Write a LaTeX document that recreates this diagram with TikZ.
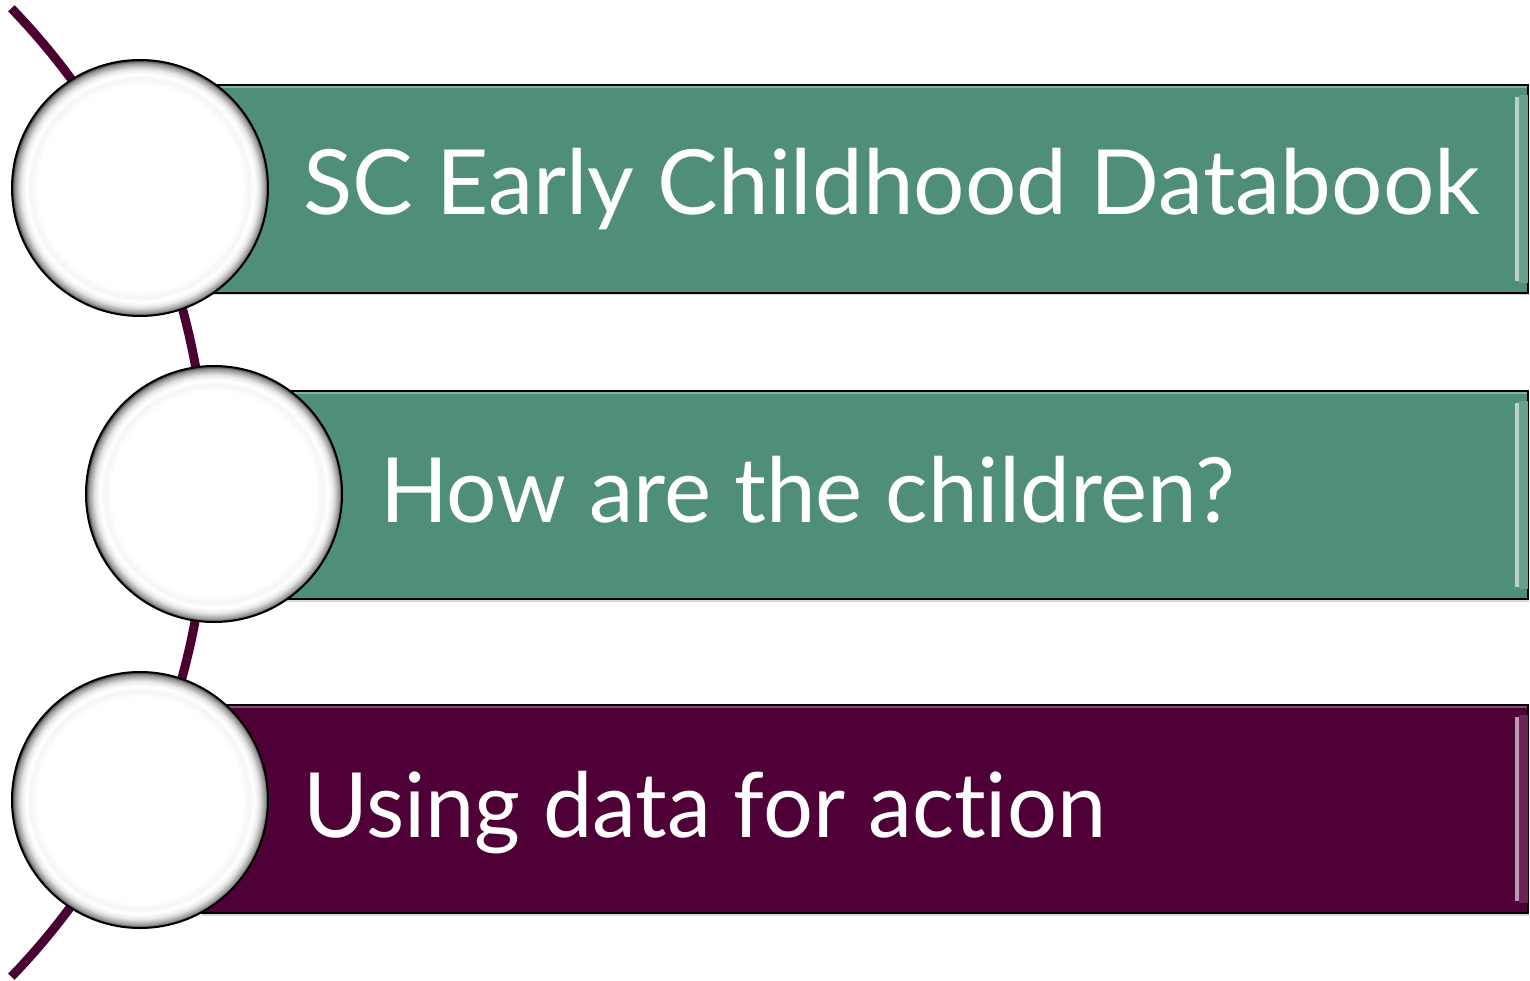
\documentclass[tikz,border=0pt]{standalone}
\usepackage{fontspec}
\setmainfont{Lato}[Ligatures={NoCommon}]
\usetikzlibrary{shadows}
\definecolor{dbgreen}{HTML}{4F8F79}
\definecolor{dbpurple}{HTML}{4E0037}
\definecolor{arccol}{HTML}{4A0031}
\pgfdeclareradialshading{bead}{\pgfpoint{0bp}{0bp}}{%
 color(0bp)=(white); color(20bp)=(white); color(21.3bp)=(black!4);
 color(22.3bp)=(white); color(23.3bp)=(black!10); color(24.4bp)=(black!40);
 color(25bp)=(black!75); color(50bp)=(black!75)}
\tikzset{
  bar/.style={draw=black, line width=2pt, inner sep=0pt, anchor=north west,
    minimum height=208pt, drop shadow={shadow xshift=1pt, shadow yshift=-2.5pt, opacity=0.3}},
  bead/.style={circle, draw=black, line width=2pt, minimum size=256pt, inner sep=0pt,
    shading=bead},
  lbl/.style={anchor=base west, inner sep=0pt, text=white, font=\fontsize{90}{90}\selectfont},
  spine/.style={draw=arccol, line width=9pt},
}
\begin{document}
\begin{tikzpicture}[x=1pt, y=-1pt]
\useasboundingbox (0,0) rectangle (1530,981);
% spine arc
\coordinate (ac) at (-490,492.5);
\draw[spine] (ac) ++(-44:697) arc[start angle=-44, end angle=44, radius=697];
% bars
\node[bar, fill=dbgreen, minimum width=1327pt] (b1) at (200,84) {};
\node[bar, fill=dbgreen, minimum width=1247pt] (b2) at (280,390) {};
\node[bar, fill=dbpurple, minimum width=1327pt] (b3) at (200,704) {};
% bevel highlights
\foreach \b/\c in {b1/dbgreen, b2/dbgreen, b3/dbpurple}{
  \draw[\c!40!white, line width=4pt] ([xshift=-12pt, yshift=-13pt]\b.north east) -- ([xshift=-12pt, yshift=13pt]\b.south east);
  \fill[\c!85!white] ([xshift=-10pt, yshift=-11pt]\b.north east) rectangle ([xshift=-1.5pt, yshift=11pt]\b.south east);
  \draw[\c!70!white, line width=2pt] ([xshift=2pt, yshift=-3pt]\b.north west) -- ([xshift=-2pt, yshift=-3pt]\b.north east);
}
% beads
\node[bead] (c1) at (140,188) {};
\node[bead] (c2) at (214,494) {};
\node[bead] (c3) at (140,800) {};
% labels
\node[lbl] (t1) at (303,215) {\resizebox{1177pt}{\height}{SC Early Childhood Databook}};
\node[lbl] (t2) at (380,522) {\resizebox{855pt}{\height}{How are the children?}};
\node[lbl] (t3) at (303,837) {\resizebox{803pt}{\height}{Using data for action}};
\end{tikzpicture}
\end{document}
